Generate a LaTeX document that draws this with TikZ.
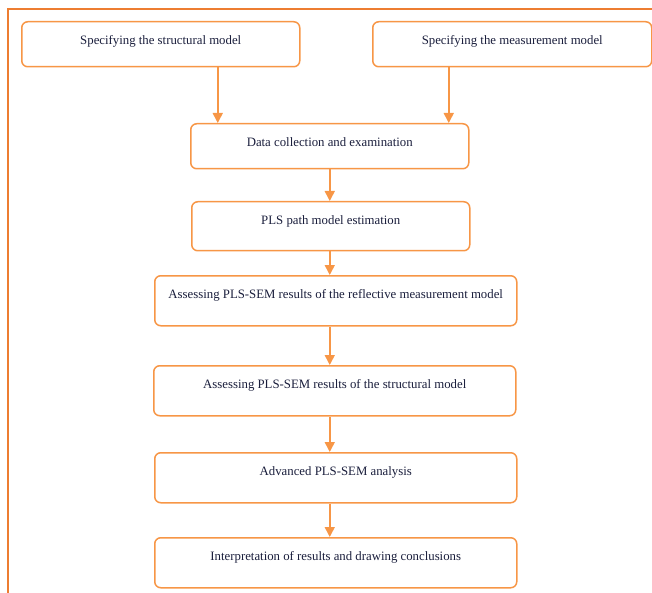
\documentclass[tikz,border=0pt]{standalone}
\usepackage{fontspec}
\setmainfont{Liberation Serif}
\usetikzlibrary{arrows.meta}
\definecolor{frameor}{HTML}{ED7D31}
\definecolor{boxor}{HTML}{F79646}
\definecolor{txt}{HTML}{1A1E3C}
\tikzset{
  stepbox/.style={draw=boxor, line width=1.5pt, rounded corners=6pt, fill=white,
    inner xsep=0pt, inner ysep=0pt, text height=22.5pt, anchor=north west,
    font=\fontsize{12.8}{14}\selectfont, text=txt},
  arr/.style={draw=boxor, line width=1.6pt, -{Triangle[width=10pt,length=10pt]}},
  frameline/.style={draw=frameor, line width=2.2pt}
}
\begin{document}
\begin{tikzpicture}[x=1pt,y=-1pt]
\useasboundingbox (0,0) rectangle (652,593);
\coordinate (ftop) at (652,9);
\coordinate (fcorner) at (8,9);
\coordinate (fbottom) at (8,600);
\draw[frameline] (ftop) -- (fcorner) -- (fbottom);

\node[stepbox, minimum width=278pt, text depth=22.5pt] (b1) at (21,21) {Specifying the structural model};
\node[stepbox, minimum width=279pt, text depth=22.5pt] (b2) at (372,21) {Specifying the measurement model};
\node[stepbox, minimum width=278pt, text depth=22.5pt] (b3) at (190,123) {Data collection and examination};
\node[stepbox, minimum width=278pt, text depth=26.5pt] (b4) at (191,201) {PLS path model estimation};
\node[stepbox, minimum width=362pt, text depth=27.5pt] (b5) at (154,275) {Assessing PLS-SEM results of the reflective measurement model};
\node[stepbox, minimum width=362pt, text depth=27.5pt] (b6) at (153,365) {Assessing PLS-SEM results of the structural model};
\node[stepbox, minimum width=362pt, text depth=27.5pt] (b7) at (154,452) {Advanced PLS-SEM analysis};
\node[stepbox, minimum width=362pt, text depth=27.5pt] (b8) at (154,537) {Interpretation of results and drawing conclusions};

\draw[arr] ([xshift=57pt]b1.south) -- ([xshift=57pt]b1.south |- b3.north);
\draw[arr] ([xshift=-63.5pt]b2.south) -- ([xshift=-63.5pt]b2.south |- b3.north);
\draw[arr] (b3.south) -- (b3.south |- b4.north);
\draw[arr] (b4.south -| b3.south) -- (b3.south |- b5.north);
\draw[arr] (b5.south -| b3.south) -- (b3.south |- b6.north);
\draw[arr] (b6.south -| b3.south) -- (b3.south |- b7.north);
\draw[arr] (b7.south -| b3.south) -- (b3.south |- b8.north);
\end{tikzpicture}
\end{document}
